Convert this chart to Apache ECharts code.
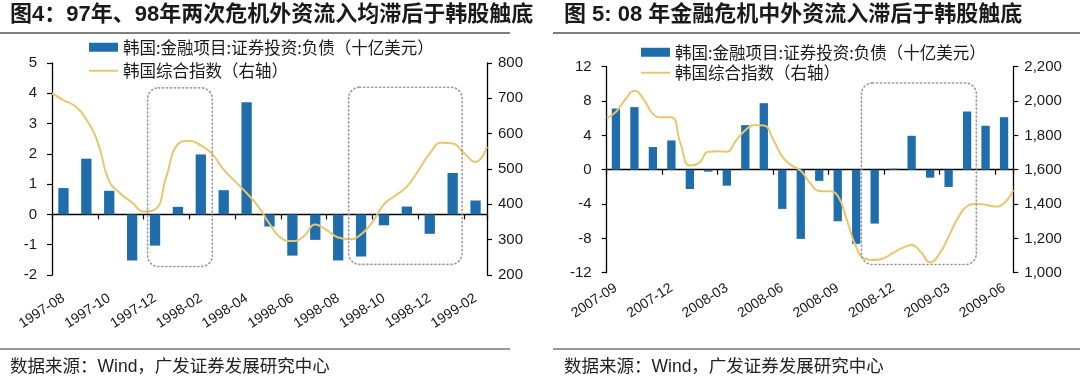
<!DOCTYPE html>
<html><head><meta charset="utf-8">
<script src="https://cdn.jsdelivr.net/npm/echarts@6/dist/echarts.min.js"></script>
<style>
html,body{margin:0;padding:0;background:#fff;}
#wrap{position:relative;width:1080px;height:391px;}
#c1{position:absolute;left:0;top:0;width:540px;height:391px;}
#c2{position:absolute;left:540px;top:0;width:540px;height:391px;}
</style></head><body>
<div id="wrap"><div id="c1"></div><div id="c2"></div></div>
<script>
// ---------- DATA ----------
const barName = '韩国:金融项目:证券投资:负债（十亿美元）';
const lineName = '韩国综合指数（右轴）';
const sourceText = '数据来源：Wind，广发证券发展研究中心';

// Chart 4
const title1 = '图4：97年、98年两次危机外资流入均滞后于韩股触底';
const months1 = ['1997-08','1997-09','1997-10','1997-11','1997-12','1998-01','1998-02','1998-03','1998-04','1998-05','1998-06','1998-07','1998-08','1998-09','1998-10','1998-11','1998-12','1999-01','1999-02'];
const flows1 = [0.87,1.84,0.78,-1.52,-1.03,0.25,1.98,0.80,3.70,-0.40,-1.36,-0.84,-1.52,-1.39,-0.36,0.26,-0.64,1.37,0.46];
// KOSPI, twice a month (start and middle of each month, plus end)
const kospi1 = [714,695,678,640,575,465,430,405,380,385,480,570,580,567,542,498,465,432,395,345,305,296,310,343,327,306,301,315,350,400,425,450,495,544,574,572,545,520,563];
const leftTicks1 = {min:-2, max:5, interval:1};
const rightTicks1 = {min:200, max:800, interval:100};
const boxes1 = [{from:'1997-12', to:'1998-02', top:4.18, bottom:-1.72, padL:-4, padR:0},
                {from:'1998-09', to:'1999-01', top:4.2, bottom:-1.65, padL:1, padR:-2}];

// Chart 5
const title2 = '图 5: 08 年金融危机中外资流入滞后于韩股触底';
const months2 = ['2007-09','2007-10','2007-11','2007-12','2008-01','2008-02','2008-03','2008-04','2008-05','2008-06','2008-07','2008-08','2008-09','2008-10','2008-11','2008-12','2009-01','2009-02','2009-03','2009-04','2009-05','2009-06'];
const flows2 = [7.13,7.29,2.64,3.41,-2.25,-0.23,-1.86,5.19,7.75,-4.57,-8.06,-1.3,-6.01,-8.64,-6.28,0.12,3.95,-0.93,-2.01,6.78,5.12,6.12];
const kospi2 = [1901,1937,2008,2060,2010,1925,1905,1905,1750,1625,1640,1705,1707,1705,1770,1830,1860,1858,1778,1676,1625,1594,1523,1476,1474,1448,1305,1150,1080,1074,1085,1115,1145,1162,1120,1060,1110,1210,1318,1387,1400,1396,1385,1405,1483];
const leftTicks2 = {min:-12, max:12, interval:4};
const rightTicks2 = {min:1000, max:2200, interval:200};
const boxes2 = [{from:'2008-11', to:'2009-04', top:10.1, bottom:-11.05, padL:4, padR:0}];

// ---------- STYLE ----------
const BAR_COLOR = '#1F6EAB';
const LINE_COLOR = '#E9C66B';
const TXT = '#1a1a1a';
const LATIN = "'Liberation Sans', 'Noto Sans CJK SC', sans-serif";
const CJK = "'Noto Sans CJK SC', sans-serif";

function halfMonthCats(months){
  const out = [];
  months.forEach(m => { out.push(m + 'a'); out.push(m + 'b'); });
  out.push('end');
  return out;
}

function build(cfg){
  const lineCats = halfMonthCats(cfg.months);
  return {
    animation: false,
    backgroundColor: '#fff',
    grid: {left: cfg.grid.left, top: cfg.grid.top, width: cfg.grid.width, height: cfg.grid.height, containLabel: false},
    legend: {
      orient: 'vertical', left: cfg.legend.left, top: cfg.legend.top, padding: 0,
      itemWidth: 29, itemHeight: 9, itemGap: cfg.legend.gap,
      textStyle: {fontSize: 16.5, fontFamily: CJK, color: TXT},
      data: [{name: barName, icon: 'rect'}, {name: lineName, itemStyle: {opacity: 0}}]
    },
    xAxis: [
      {type:'category', data: cfg.months, boundaryGap: true,
       axisLine: {show:true, onZero:true, onZeroAxisIndex:0, lineStyle:{color:'#000', width:1.3}},
       axisTick: {show:true, interval: cfg.labelInterval, length:5, lineStyle:{color:'#000', width:1.2}},
       axisLabel: {show:false}, splitLine:{show:false}},
      {type:'category', data: cfg.months, position:'bottom', boundaryGap: true,
       axisLine: {show:false, onZero:false}, axisTick:{show:false},
       axisLabel: {interval: cfg.labelInterval, rotate: 33, margin: cfg.labelMargin, fontSize: 14, fontFamily: LATIN, color: TXT},
       splitLine:{show:false}},
      {type:'category', data: lineCats, boundaryGap: false, show: false}
    ],
    yAxis: [
      {type:'value', position:'left', min: cfg.left.min, max: cfg.left.max, interval: cfg.left.interval,
       axisLine:{show:true, lineStyle:{color:'#000', width:1.3}},
       axisTick:{show:true, length:5, lineStyle:{color:'#000', width:1.2}},
       splitLine:{show:false},
       axisLabel:{fontSize:15, margin:15, fontFamily: LATIN, color: TXT}},
      {type:'value', position:'right', min: cfg.right.min, max: cfg.right.max, interval: cfg.right.interval,
       axisLine:{show:true, lineStyle:{color:'#000', width:1.3}},
       axisTick:{show:true, length:5, lineStyle:{color:'#000', width:1.2}},
       splitLine:{show:false},
       axisLabel:{fontSize:15, margin:11, fontFamily: LATIN, color: TXT,
                  formatter: v => cfg.comma ? v.toLocaleString('en-US') : String(v)}}
    ],
    series: [
      {name: barName, type:'bar', xAxisIndex:0, yAxisIndex:0, data: cfg.flows, barWidth:'45%',
       itemStyle:{color: BAR_COLOR}},
      {name: lineName, type:'line', xAxisIndex:2, yAxisIndex:1, data: cfg.kospi, smooth: true,
       symbol:'none', lineStyle:{color: LINE_COLOR, width: 2}, itemStyle:{color: LINE_COLOR}}
    ]
  };
}

function decorate(chart, cfg){
  const els = [];
  els.push({type:'text', left: cfg.titleX, top: 4, style:{text: cfg.title, font: "bold 22px " + LATIN, fill: TXT}});
  els.push({type:'line', shape:{x1: cfg.sepX1, y1: 33, x2: cfg.sepX2, y2: 33}, style:{stroke:'#555', lineWidth:1.5}});
  els.push({type:'line', shape:{x1: cfg.sepX1, y1: 349, x2: cfg.sepX2, y2: 349}, style:{stroke:'#777', lineWidth:1.5}});
  els.push({type:'text', left: cfg.titleX, top: 358, style:{text: sourceText, font: "17.5px " + LATIN, fill: '#222'}});
  const c0 = chart.convertToPixel({xAxisIndex:0, yAxisIndex:0}, [0, 0]);
  const c1 = chart.convertToPixel({xAxisIndex:0, yAxisIndex:0}, [1, 0]);
  const cw = c1[0] - c0[0];
  cfg.boxes.forEach(b => {
    const i0 = cfg.months.indexOf(b.from), i1 = cfg.months.indexOf(b.to);
    const pTop = chart.convertToPixel({xAxisIndex:0, yAxisIndex:0}, [i0, b.top]);
    const pBot = chart.convertToPixel({xAxisIndex:0, yAxisIndex:0}, [i1, b.bottom]);
    const x0 = pTop[0] - cw/2 - b.padL, x1 = pBot[0] + cw/2 + b.padR;
    els.push({type:'rect', shape:{x: x0, y: pTop[1], width: x1 - x0, height: pBot[1] - pTop[1], r: 11},
              style:{fill: null, stroke:'#9a9a9a', lineWidth:1.6, lineDash:[1.2, 2.8], lineCap:'round'}, z: 10});
  });
  chart.setOption({graphic: els});
}

const cfg1 = {months: months1, flows: flows1, kospi: kospi1, left: leftTicks1, right: rightTicks1, comma:false,
  grid:{left:52, top:63, width:435, height:212}, legend:{left:88, top:39, gap:7},
  labelInterval:1, labelMargin:22, title: title1, titleX: 10, sepX1: 0, sepX2: 510, boxes: boxes1};
const cfg2 = {months: months2, flows: flows2, kospi: kospi2, left: leftTicks2, right: rightTicks2, comma:true,
  grid:{left:66.7, top:66.7, width:406.6, height:206}, legend:{left:100, top:44, gap:4},
  labelInterval:2, labelMargin:14, title: title2, titleX: 24, sepX1: 13, sepX2: 540, boxes: boxes2};

const ch1 = echarts.init(document.getElementById('c1'), null, {renderer:'canvas'});
ch1.setOption(build(cfg1));
decorate(ch1, cfg1);
const ch2 = echarts.init(document.getElementById('c2'), null, {renderer:'canvas'});
ch2.setOption(build(cfg2));
decorate(ch2, cfg2);
</script>
</body></html>
